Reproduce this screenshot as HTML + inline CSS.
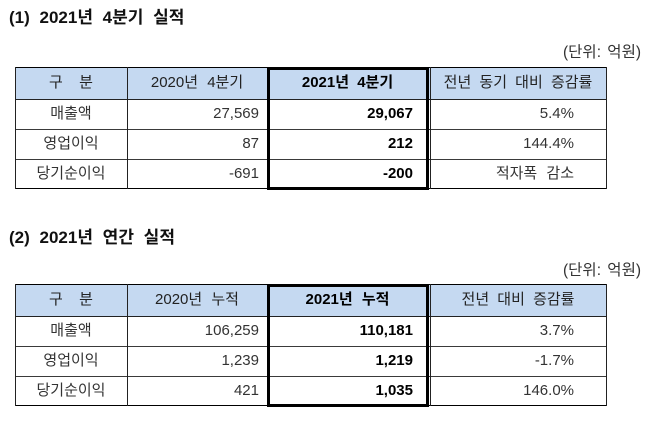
<!DOCTYPE html>
<html><head><meta charset="utf-8">
<style>
html,body{margin:0;padding:0;background:#fff;}
body{width:658px;height:427px;position:relative;overflow:hidden;font-family:"Liberation Sans","Noto Sans CJK KR",sans-serif;color:#333;}
.title{position:absolute;left:9px;font-size:17px;font-weight:bold;color:#111;line-height:24px;white-space:pre;word-spacing:5px;}
.unit{position:absolute;right:17px;font-size:15.5px;line-height:22px;color:#333;white-space:pre;word-spacing:2px;}
.sec{position:absolute;left:0;width:658px;height:130px;}
.hb{position:absolute;left:15px;top:0;width:591px;height:32px;background:#c5d9f1;}
.hl{position:absolute;left:15px;width:592px;height:1px;background:#3a3a3a;}
.vl{position:absolute;top:0;width:1px;height:122px;background:#222;}
.thick{position:absolute;left:267px;top:0;width:162px;height:123px;border:3px solid #000;box-sizing:border-box;}
.c{position:absolute;font-size:15px;white-space:pre;word-spacing:1px;}
.r{height:30px;line-height:30px;}
.c1{left:15px;width:112px;text-align:center;}
.c2{left:127px;width:132px;text-align:right;}
.c3{left:267px;width:146px;text-align:right;font-weight:bold;color:#000;}
.c4{left:430px;width:144px;text-align:right;}
.h{height:32px;line-height:32px;color:#222;top:0;}
.h.c1,.h.c2,.h.c3,.h.c4{text-align:center;}
.h.c2{width:140px;}
.h.c3{width:161px;}
.h.c4{width:176px;}
</style></head>
<body>

<div class="title" style="top:6px;">(1) 2021년 4분기 실적</div>
<div class="unit" style="top:42px;">(단위: 억원)</div>

<div class="sec" style="top:67px;">
  <div class="hb"></div>
  <div class="hl" style="top:0;background:#000;"></div>
  <div class="hl" style="top:32px;background:#222;"></div>
  <div class="hl" style="top:62px;"></div>
  <div class="hl" style="top:92px;"></div>
  <div class="hl" style="top:121px;background:#000;"></div>
  <div class="vl" style="left:15px;"></div>
  <div class="vl" style="left:127px;"></div>
  <div class="vl" style="left:430px;"></div>
  <div class="vl" style="left:606px;"></div>
  <div class="thick"></div>

  <div class="c h c1" style="word-spacing:4px;">구  분</div>
  <div class="c h c2" style="word-spacing:5px;">2020년 4분기</div>
  <div class="c h c3" style="font-weight:bold;color:#000;word-spacing:4px;">2021년 4분기</div>
  <div class="c h c4" style="word-spacing:4px;">전년 동기 대비 증감률</div>

  <div class="c r c1" style="top:32px;">매출액</div>
  <div class="c r c2" style="top:32px;">27,569</div>
  <div class="c r c3" style="top:32px;">29,067</div>
  <div class="c r c4" style="top:32px;">5.4%</div>

  <div class="c r c1" style="top:62px;">영업이익</div>
  <div class="c r c2" style="top:62px;">87</div>
  <div class="c r c3" style="top:62px;">212</div>
  <div class="c r c4" style="top:62px;">144.4%</div>

  <div class="c r c1" style="top:92px;">당기순이익</div>
  <div class="c r c2" style="top:92px;">-691</div>
  <div class="c r c3" style="top:92px;">-200</div>
  <div class="c r c4" style="top:92px;word-spacing:5px;">적자폭 감소</div>
</div>

<div class="title" style="top:226px;">(2) 2021년 연간 실적</div>
<div class="unit" style="top:260px;">(단위: 억원)</div>

<div class="sec" style="top:284px;">
  <div class="hb"></div>
  <div class="hl" style="top:0;background:#000;"></div>
  <div class="hl" style="top:32px;background:#222;"></div>
  <div class="hl" style="top:62px;"></div>
  <div class="hl" style="top:92px;"></div>
  <div class="hl" style="top:121px;background:#000;"></div>
  <div class="vl" style="left:15px;"></div>
  <div class="vl" style="left:127px;"></div>
  <div class="vl" style="left:430px;"></div>
  <div class="vl" style="left:606px;"></div>
  <div class="thick"></div>

  <div class="c h c1" style="word-spacing:4px;">구  분</div>
  <div class="c h c2" style="word-spacing:5px;">2020년 누적</div>
  <div class="c h c3" style="font-weight:bold;color:#000;word-spacing:5px;">2021년 누적</div>
  <div class="c h c4" style="word-spacing:4px;">전년 대비 증감률</div>

  <div class="c r c1" style="top:32px;">매출액</div>
  <div class="c r c2" style="top:32px;">106,259</div>
  <div class="c r c3" style="top:32px;">110,181</div>
  <div class="c r c4" style="top:32px;">3.7%</div>

  <div class="c r c1" style="top:62px;">영업이익</div>
  <div class="c r c2" style="top:62px;">1,239</div>
  <div class="c r c3" style="top:62px;">1,219</div>
  <div class="c r c4" style="top:62px;">-1.7%</div>

  <div class="c r c1" style="top:92px;">당기순이익</div>
  <div class="c r c2" style="top:92px;">421</div>
  <div class="c r c3" style="top:92px;">1,035</div>
  <div class="c r c4" style="top:92px;">146.0%</div>
</div>

</body></html>
